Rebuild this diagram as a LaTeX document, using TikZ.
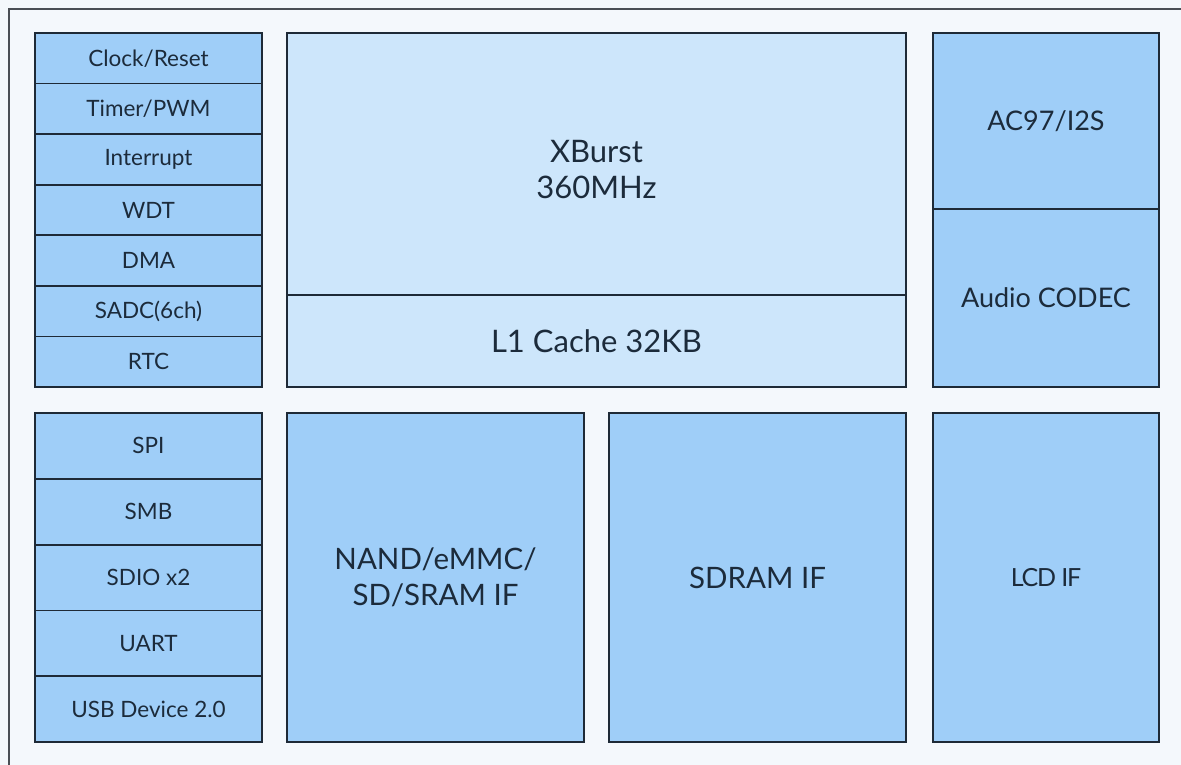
\documentclass[tikz,border=0pt]{standalone}
\usepackage{fontspec}
\setmainfont{Lato}
\definecolor{bg}{HTML}{F4F8FC}
\definecolor{cellblue}{HTML}{9FCEF8}
\definecolor{cpublue}{HTML}{CDE6FB}
\definecolor{edge}{HTML}{1E2A37}
\definecolor{txt}{HTML}{1C2B3B}
\definecolor{frame}{HTML}{4A4F55}
\tikzset{
  cell/.style={draw=edge, line width=1.8pt, fill=cellblue, anchor=north west, inner sep=0pt, outer sep=0pt, text=txt, align=center, font=\fontsize{22.5}{27}\selectfont},
  cpu/.style={cell, fill=cpublue},
  big/.style={font=\fontsize{29.5}{36}\selectfont},
  cputext/.style={text=txt, align=center, inner sep=0pt, font=\fontsize{31}{36}\selectfont},
  rightcol/.style={font=\fontsize{27}{32}\selectfont},
  lcdfont/.style={font=\fontsize{25}{30}\selectfont\addfontfeature{LetterSpace=-5}},
}
\begin{document}
\begin{tikzpicture}[x=1pt,y=-1pt]
\fill[bg] (0,0) rectangle (1181,765);
\useasboundingbox (0,0) rectangle (1181,765);
\coordinate (fbl) at (9,766);
\coordinate (ftl) at (9,9);
\coordinate (ftr) at (1182,9);
\draw[frame, line width=1.8pt] (fbl) -- (ftl) -- (ftr);
% left top column
\foreach \t [count=\i from 0] in {Clock/Reset,Timer/PWM,Interrupt,WDT,DMA,SADC(6ch),RTC}{
  \node[cell, minimum width=227pt, minimum height=50.57pt] (lt\i) at (35,{33+\i*50.57}) {\t};
}
% CPU
\node[cpu, minimum width=619pt, minimum height=262pt] (cpu) at (287,33) {};
\node[cputext, yshift=-6pt] (cpulabel) at (cpu.center) {XBurst\\360MHz};
\node[cpu, minimum width=619pt, minimum height=92pt] (l1) at (287,295) {};
\node[cputext] (l1label) at (l1.center) {L1 Cache 32KB};
% right top
\node[cell, rightcol, minimum width=226pt, minimum height=176pt] (ac97) at (933,33) {AC97/I2S};
\node[cell, rightcol, minimum width=226pt, minimum height=178pt] (codec) at (933,209) {Audio CODEC};
% left bottom column
\foreach \t [count=\i from 0] in {SPI,SMB,SDIO x2,UART,USB Device 2.0}{
  \node[cell, minimum width=227pt, minimum height=65.8pt] (lb\i) at (35,{413+\i*65.8}) {\t};
}
\node[cell, big, minimum width=297pt, minimum height=329pt] (nand) at (287,413) {NAND/eMMC/\\SD/SRAM IF};
\node[cell, big, minimum width=297pt, minimum height=329pt] (sdram) at (609,413) {SDRAM IF};
\node[cell, lcdfont, minimum width=226pt, minimum height=329pt] (lcd) at (933,413) {LCD IF};
\end{tikzpicture}
\end{document}
